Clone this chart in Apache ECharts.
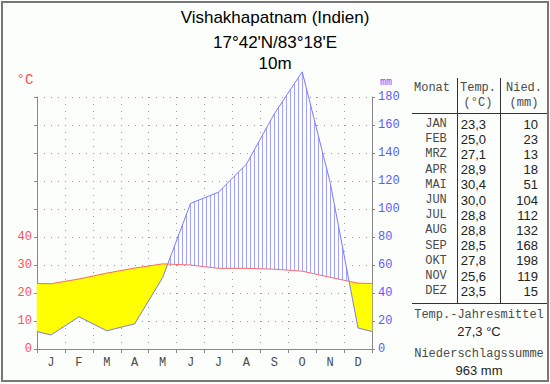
<!DOCTYPE html>
<html><head><meta charset="utf-8">
<script src="https://cdn.jsdelivr.net/npm/echarts@6/dist/echarts.min.js"></script>
<style>html,body{margin:0;padding:0;background:#fcfefc}#c{width:550px;height:384px}</style>
</head><body><div id="c"></div>
<script>
// ---- data ----
const monthLetters = ['J','F','M','A','M','J','J','A','S','O','N','D'];
const monthAbbr = ['JAN','FEB','MRZ','APR','MAI','JUN','JUL','AUG','SEP','OKT','NOV','DEZ'];
const temps = [23.3,25.0,27.1,28.9,30.4,30.0,28.8,28.8,28.5,27.8,25.6,23.5];
const precip = [10,23,13,18,51,104,112,132,168,198,119,15];
const tempTickLabels = ['0','10','20','30','40'];
const precipTickLabels = ['0','20','40','60','80','100','120','140','160','180'];
const titleLines = ['Vishakhapatnam (Indien)', "17°42'N/83°18'E", '10m'];
const meanText = '27,3 °C';
const sumText = '963 mm';

// wrap-around (Dec before Jan, Jan after Dec), month centres at i+0.5
const xExt = [-0.5].concat(temps.map((_, i) => i + 0.5), [12.5]);
const tExt = [temps[11]].concat(temps, [temps[0]]);
const pExt = [precip[11]].concat(precip, [precip[0]]);

const chart = echarts.init(document.getElementById('c'), null, {renderer: 'svg'});
const MONO = '"Liberation Mono", "DejaVu Sans Mono", monospace';
const SANS = '"Liberation Sans", Arial, sans-serif';

function interp(X, Y, x) {
  for (let i = 0; i < X.length - 1; i++) {
    if (x >= X[i] && x <= X[i + 1]) {
      const f = (x - X[i]) / (X[i + 1] - X[i]);
      return Y[i] + f * (Y[i + 1] - Y[i]);
    }
  }
  return Y[Y.length - 1];
}

function renderDiagram(params, api) {
  if (params.dataIndex !== 0) return;
  const n = xExt.length;
  const X = [], YT = [], YP = [];
  for (let i = 0; i < n; i++) {
    const p = api.coord([xExt[i], tExt[i]]);
    X.push(p[0]); YT.push(p[1]);
    YP.push(chart.convertToPixel({yAxisIndex: 1}, pExt[i]));
  }
  const XL = api.coord([0, 0])[0], XR = api.coord([12, 0])[0];
  function clipEnd(i, j, xe) {
    const f = (xe - X[i]) / (X[j] - X[i]);
    YT[i] = YT[i] + f * (YT[j] - YT[i]);
    YP[i] = YP[i] + f * (YP[j] - YP[i]);
    X[i] = xe;
  }
  clipEnd(0, 1, XL);
  clipEnd(n - 1, n - 2, XR);

  // regions between the two curves
  const regions = [];
  let cur = null;
  for (let k = 0; k < n; k++) {
    const d = YP[k] - YT[k];
    const s = d >= 0 ? 1 : -1;
    if (!cur) { cur = {s: s, a: [[X[k], YT[k]]], b: [[X[k], YP[k]]]}; continue; }
    const dp = YP[k - 1] - YT[k - 1];
    if (s !== cur.s && d !== 0 && dp !== 0) {
      const t = dp / (dp - d);
      const cx = X[k - 1] + t * (X[k] - X[k - 1]);
      const cy = YT[k - 1] + t * (YT[k] - YT[k - 1]);
      cur.a.push([cx, cy]); cur.b.push([cx, cy]);
      regions.push(cur);
      cur = {s: s, a: [[cx, cy], [X[k], YT[k]]], b: [[cx, cy], [X[k], YP[k]]]};
    } else {
      cur.a.push([X[k], YT[k]]); cur.b.push([X[k], YP[k]]);
    }
  }
  regions.push(cur);

  const children = [];
  regions.forEach(r => {
    const pts = r.a.concat(r.b.slice().reverse());
    children.push({type: 'polygon', shape: {points: pts},
      style: {fill: r.s > 0 ? '#ffff00' : '#fcfefc', stroke: r.s > 0 ? '#ffff00' : null, lineWidth: 0.5}});
  });
  // hatch lines (humid)
  for (let hx = XL + 1; hx < XR; hx += 4) {
    const yp = interp(X, YP, hx + 0.5), yt = interp(X, YT, hx + 0.5);
    if (yt - yp > 0.8) {
      children.push({type: 'line', shape: {x1: hx + 0.5, y1: yp, x2: hx + 0.5, y2: yt},
        style: {stroke: '#a2a2ff', lineWidth: 1}});
    }
  }
  children.push({type: 'polyline', shape: {points: X.map((x, i) => [x, YT[i]])},
    style: {stroke: '#ff6a6a', fill: null, lineWidth: 1}});
  children.push({type: 'polyline', shape: {points: X.map((x, i) => [x, YP[i]])},
    style: {stroke: '#7b7bff', fill: null, lineWidth: 1}});
  return {type: 'group', children: children};
}

const graphics = [];
graphics.push({type: 'rect', shape: {x: 2, y: 2, width: 546, height: 379},
  style: {fill: null, stroke: '#777', lineWidth: 2}, z: 100});
titleLines.forEach((t, i) => {
  graphics.push({type: 'text', x: 275, y: [17, 42, 63][i],
    style: {text: t, font: '17px ' + SANS, fill: '#000', align: 'center', verticalAlign: 'middle', textAlign: 'center', textVerticalAlign: 'middle'}});
});
graphics.push({type: 'text', x: 25, y: 80, style: {text: '°C', font: '14px ' + MONO, fill: '#ff5050', align: 'center', verticalAlign: 'middle'}});
graphics.push({type: 'text', x: 386, y: 82, style: {text: 'mm', font: '10px ' + MONO, fill: '#5a5aff', align: 'center', verticalAlign: 'middle'}});
// table
const tl = '#333';
graphics.push({type: 'line', shape: {x1: 457.5, y1: 78, x2: 457.5, y2: 304}, style: {stroke: tl, lineWidth: 1}});
graphics.push({type: 'line', shape: {x1: 500.5, y1: 78, x2: 500.5, y2: 304}, style: {stroke: tl, lineWidth: 1}});
graphics.push({type: 'line', shape: {x1: 412, y1: 113.5, x2: 548, y2: 113.5}, style: {stroke: tl, lineWidth: 1}});
graphics.push({type: 'line', shape: {x1: 412, y1: 303.5, x2: 548, y2: 303.5}, style: {stroke: tl, lineWidth: 1}});
function txt(t, x, y, font, align, color) {
  graphics.push({type: 'text', x: x, y: y, style: {text: t, font: font, fill: color || '#222', align: align || 'center', verticalAlign: 'middle'}});
}
const MC = '#4a4a4a';
txt('Monat', 432, 88, '12px ' + MONO, 'center', MC);
txt('Temp.', 478, 88, '12px ' + MONO, 'center', MC);
txt('(°C)', 478, 103, '12px ' + MONO, 'center', MC);
txt('Nied.', 524, 88, '12px ' + MONO, 'center', MC);
txt('(mm)', 524, 103, '12px ' + MONO, 'center', MC);
monthAbbr.forEach((m, i) => {
  const y = 124 + i * 15.2;
  txt(m, 436, y, '12px ' + MONO, 'center', MC);
  txt(temps[i].toFixed(1).replace('.', ','), 486, y, '13px ' + SANS, 'right');
  txt(String(precip[i]), 538, y, '13px ' + SANS, 'right');
});
txt('Temp.-Jahresmittel', 479, 315, '12px ' + MONO, 'center', MC);
txt(meanText, 479, 331, '13px ' + SANS);
txt('Niederschlagssumme', 479, 354, '12px ' + MONO, 'center', MC);
txt(sumText, 479, 370, '13px ' + SANS);

const dotted = {color: '#9a9a9a', type: [1, 6], width: 1};
chart.setOption({
  backgroundColor: '#fcfefc',
  animation: false,
  grid: {left: 37, right: 178, top: 97, bottom: 35, containLabel: false, outerBoundsMode: 'none'},
  xAxis: [
    {type: 'value', min: 0, max: 12, show: false},
    {type: 'category', data: monthLetters, position: 'bottom', boundaryGap: true,
      axisLine: {show: true, lineStyle: {color: '#888'}},
      axisTick: {show: true, interval: 0, length: 4, lineStyle: {color: '#888'}},
      axisLabel: {interval: 0, margin: 8, color: '#4a4a4a', fontFamily: MONO, fontSize: 12},
      splitLine: {show: true, interval: 0, lineStyle: dotted}}
  ],
  yAxis: [
    {type: 'value', min: 0, max: 90, interval: 10, position: 'left',
      axisLine: {show: true, lineStyle: {color: '#888'}},
      axisTick: {show: true, length: 3, lineStyle: {color: '#888'}},
      axisLabel: {margin: 5, color: '#ff5050', fontFamily: MONO, fontSize: 12,
        formatter: v => tempTickLabels.includes(String(v)) ? String(v) : ''},
      splitLine: {show: true, lineStyle: dotted}},
    {type: 'value', min: 0, max: 180, interval: 20, position: 'right',
      axisLine: {show: true, lineStyle: {color: '#888'}},
      axisTick: {show: true, length: 3, lineStyle: {color: '#888'}},
      axisLabel: {margin: 6, color: '#5a5aff', fontFamily: MONO, fontSize: 12,
        formatter: v => precipTickLabels.includes(String(v)) ? String(v) : ''},
      splitLine: {show: false}}
  ],
  graphic: graphics,
  series: [{
    type: 'custom', xAxisIndex: 0, yAxisIndex: 0, silent: true, clip: false,
    data: [[0, 0]], encode: {x: 0, y: 1},
    renderItem: renderDiagram
  }]
});
</script></body></html>
